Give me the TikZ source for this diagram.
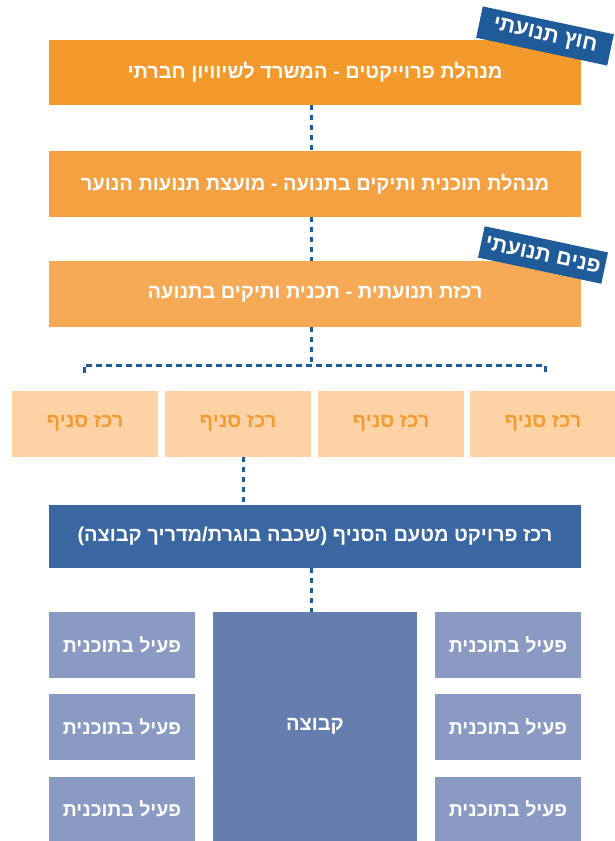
\documentclass[tikz,border=0pt]{standalone}
\usepackage{fontspec}
\newfontfamily\heb[Script=Hebrew]{Liberation Sans Bold}
\TeXXeTstate=1
\newcommand\hebtext[1]{\beginR #1\endR}
\definecolor{orA}{HTML}{F4992C}
\definecolor{orB}{HTML}{F5A142}
\definecolor{orC}{HTML}{F6AA56}
\definecolor{peach}{HTML}{FDD2A4}
\definecolor{peachtext}{HTML}{F39B33}
\definecolor{darkblue}{HTML}{3A66A1}
\definecolor{midblue}{HTML}{667DB0}
\definecolor{lightblue}{HTML}{8A9AC3}
\definecolor{tagblue}{HTML}{1F5B98}
\definecolor{dotblue}{HTML}{1F5C99}
\begin{document}
\begin{tikzpicture}[x=1pt,y=-1pt,
  base/.style={inner sep=0pt, outer sep=0pt, text=white, font=\heb\fontsize{20}{24}\selectfont},
  widebox/.style={base, minimum width=532pt, minimum height=66pt},
  branchbox/.style={base, fill=peach, text=peachtext, minimum width=146pt, minimum height=66pt},
  smallbox/.style={base, fill=lightblue, minimum width=146pt, minimum height=66pt, font=\heb\fontsize{19.5}{23}\selectfont},
  tagbox/.style={base, fill=tagblue, rotate=-12, minimum height=32pt, font=\heb\fontsize{21.5}{25}\selectfont},
  dots/.style={draw=dotblue, line width=3pt, dash pattern=on 5pt off 5pt},
  hdots/.style={draw=dotblue, line width=3pt, dash pattern=on 6pt off 4pt}]
\useasboundingbox (0,0) rectangle (615,841);

% top boxes
\node[widebox, fill=orA, minimum height=65pt] (b1) at (315,72.5) {\hebtext{מנהלת פרוייקטים - המשרד לשיוויון חברתי}};
\node[widebox, fill=orB] (b2) at (315,184) {\hebtext{מנהלת תוכנית ותיקים בתנועה - מועצת תנועות הנוער}};
\node[widebox, fill=orC] (b3) at (315,294) {\hebtext{רכזת תנועתית - תכנית ותיקים בתנועה}};

% tags
\node[tagbox, minimum width=134pt] (t1) at (545,36) {\hebtext{חוץ תנועתי}};
\node[tagbox, minimum width=126pt] (t2) at (543,255) {\hebtext{פנים תנועתי}};

% branch boxes
\node[branchbox] (r1) at (85,423.5) {\hebtext{רכז סניף}};
\node[branchbox] (r2) at (238,423.5) {\hebtext{רכז סניף}};
\node[branchbox] (r3) at (391,423.5) {\hebtext{רכז סניף}};
\node[branchbox] (r4) at (543,423.5) {\hebtext{רכז סניף}};

% project coordinator
\node[widebox, fill=darkblue, minimum height=63pt] (pc) at (315,536.5) {\hebtext{רכז פרויקט מטעם הסניף (שכבה בוגרת/מדריך קבוצה)}};

% bottom
\node[base, fill=midblue, minimum width=204pt, minimum height=229pt] (grp) at (315,726.5) {\hebtext{קבוצה}};
\node[smallbox] (l1) at (122,645) {\hebtext{פעיל בתוכנית}};
\node[smallbox] (l2) at (122,727) {\hebtext{פעיל בתוכנית}};
\node[smallbox, minimum height=64pt] (l3) at (122,809) {\hebtext{פעיל בתוכנית}};
\node[smallbox] (p1) at (508,645) {\hebtext{פעיל בתוכנית}};
\node[smallbox] (p2) at (508,727) {\hebtext{פעיל בתוכנית}};
\node[smallbox, minimum height=64pt] (p3) at (508,809) {\hebtext{פעיל בתוכנית}};

% connectors
\draw[dots] ([xshift=-4pt]b1.south) -- ([xshift=-4pt]b2.north);
\draw[dots] ([xshift=-4pt]b2.south) -- ([xshift=-4pt]b3.north);
\coordinate (bus) at (311,365);
\coordinate (busL) at (84,365);
\coordinate (busR) at (545,365);
\coordinate (tickL) at (84,373);
\coordinate (tickR) at (545,373);
\draw[dots] ([xshift=-4pt]b3.south) -- (bus);
\draw[hdots] (tickL) -- (busL) -- (busR) -- (tickR);
\draw[dots] ([xshift=5pt]r2.south) -- ([xshift=5pt]r2.south |- pc.north);
\draw[dots] ([xshift=-4pt]pc.south) -- ([xshift=-4pt]grp.north);
\end{tikzpicture}
\end{document}
